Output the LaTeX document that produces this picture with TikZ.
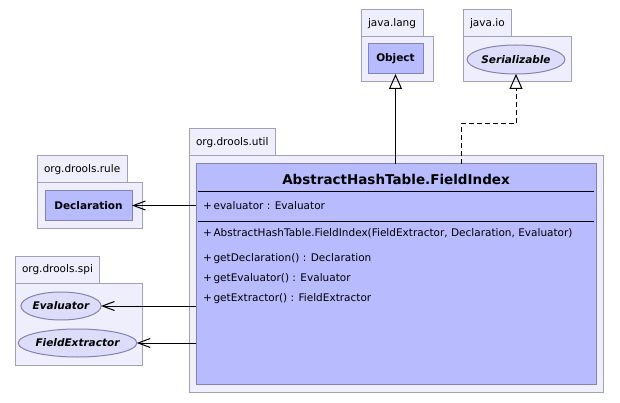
\documentclass[tikz,border=0pt]{standalone}
\usepackage{fontspec}
\setmainfont{DejaVu Sans}
\usepackage{xcolor}
\usetikzlibrary{positioning, arrows, arrows.meta, shapes.geometric}
\definecolor{pkgfill}{RGB}{238,238,252}
\definecolor{pkgline}{RGB}{162,162,182}
\definecolor{clsfill}{RGB}{185,187,255}
\definecolor{clsline}{RGB}{130,130,180}
\definecolor{ifcfill}{RGB}{221,221,250}
\newcommand{\umltxt}{\fontsize{10.5}{12}\selectfont}
\newcommand{\umltitle}{\fontsize{13.5}{16}\selectfont\bfseries}

\begin{document}
\begin{tikzpicture}[x=1pt,y=-1pt,line width=1pt,outer sep=0pt,
                    pkg body/.style={draw=pkgline,fill=pkgfill,anchor=north west,inner sep=0pt},
                    pkg tab/.style={draw=pkgline,fill=pkgfill,anchor=south west,minimum height=27pt,
                                    inner xsep=7pt,inner ysep=0pt,font=\umltxt},
                    class node/.style={draw=clsline,fill=clsfill,inner sep=0pt,font=\umltxt\bfseries},
                    iface node/.style={ellipse,draw=clsline,fill=ifcfill,inner sep=0pt,font=\umltxt\bfseries\itshape},
                    member/.style={anchor=base west,inner sep=0pt,font=\umltxt},
                    realize/.style={-{Triangle[open,length=15pt,width=13pt]}},
                    assoc/.style={-{Straight Barb[length=12pt,width=9pt]}}]

        \useasboundingbox (0,0) rectangle (620,403);

        % packages
        \node[pkg body, minimum width=72pt, minimum height=45pt] (lang) at (361,37) {};
        \node[pkg tab] (langtab) at (lang.north west) {java.lang};
        \node[pkg body, minimum width=108pt, minimum height=45pt] (io) at (463,37) {};
        \node[pkg tab] (iotab) at (io.north west) {java.io};
        \node[pkg body, minimum width=105pt, minimum height=45pt] (rule) at (37,183) {};
        \node[pkg tab] (ruletab) at (rule.north west) {org.drools.rule};
        \node[pkg body, minimum width=127pt, minimum height=82pt] (spi) at (15,283) {};
        \node[pkg tab] (spitab) at (spi.north west) {org.drools.spi};
        \node[pkg body, minimum width=414pt, minimum height=236pt] (util) at (189,156) {};
        \node[pkg tab] (utiltab) at (util.north west) {org.drools.util};

        % classes and interfaces
        \node[class node, minimum width=55pt, minimum height=30pt] (obj) at (395.5,59) {Object};
        \node[iface node, minimum width=94pt, minimum height=29pt] (ser) at (516,59.5) {Serializable};
        \node[class node, minimum width=87pt, minimum height=29pt] (decl) at (88.5,205.5) {Declaration};
        \node[iface node, minimum width=78pt, minimum height=28pt] (eval) at (61,306) {Evaluator};
        \node[iface node, minimum width=111pt, minimum height=28pt] (fext) at (77.5,343) {FieldExtractor};

        \node[class node, minimum width=400pt, minimum height=220pt] (fidx) at (396,274) {};
        \node[anchor=base,inner sep=0pt,font=\umltitle] (title) at (396,185) {AbstractHashTable.FieldIndex};
        \draw (198,192) -- (594,192);
        \node[member] (a1) at (203,210) {+\,evaluator : Evaluator};
        \draw (198,221) -- (594,221);
        \node[member] (m1) at (203,236) {+\,AbstractHashTable.FieldIndex(FieldExtractor, Declaration, Evaluator)};
        \node[member] (m2) at (203,261) {+\,getDeclaration() : Declaration};
        \node[member] (m3) at (203,281) {+\,getEvaluator() : Evaluator};
        \node[member] (m4) at (203,301) {+\,getExtractor() : FieldExtractor};

        % relations
        \draw[realize] (fidx.north -| obj.south) -- (obj.south);
        \draw[realize, dash pattern=on 5pt off 3pt] (fidx.north) ++(65,0) -- ++(0,-40) -| (ser.south);
        \draw[assoc] (fidx.west |- decl.east) -- (decl.east);
        \draw[assoc] (fidx.west |- eval.east) -- (eval.east);
        \draw[assoc] (fidx.west |- fext.east) -- (fext.east);
      \end{tikzpicture}
\end{document}
